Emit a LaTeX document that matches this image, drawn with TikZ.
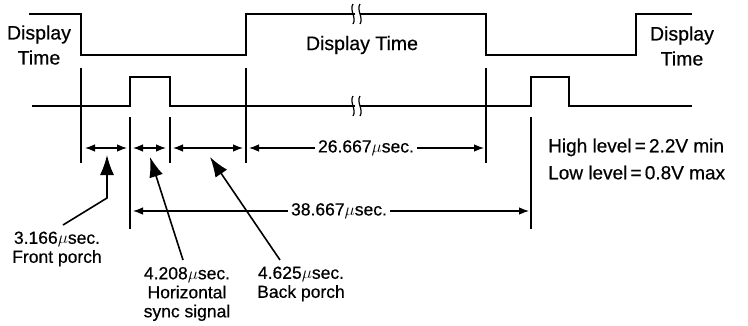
\documentclass[tikz,border=0pt]{standalone}
\usepackage{fontspec}
\setmainfont{Liberation Sans}[FakeBold=0.5]
\usetikzlibrary{arrows.meta}
\begin{document}
\begin{tikzpicture}[x=1pt,y=-1pt,
  wave/.style={line width=2.8pt,line join=miter},
  lowwave/.style={line width=2.4pt,line join=miter},
  guide/.style={line width=1.4pt},
  dim/.style={line width=1.1pt,{Latex[length=10pt,width=7.5pt]}-{Latex[length=10pt,width=7.5pt]}},
  pointer/.style={line width=1.6pt,-{Latex[length=20pt,width=14pt]}},
  big/.style={font=\fontsize{19.5}{25}\selectfont,align=center,inner sep=1pt},
  small/.style={font=\fontsize{17.5}{19}\selectfont,align=center,inner sep=1pt},
  brk/.style={line width=1.2pt}]
\useasboundingbox (0,0) rectangle (748,325);

% waveforms
\draw[wave] (29,14) -- (81,14) -- (81,55) -- (246,55) -- (246,14) -- (486,14) -- (486,55) -- (636,55) -- (636,14) -- (692,14);
\draw[lowwave] (32,106) -- (130,106) -- (130,77) -- (170,77) -- (170,106) -- (531,106) -- (531,77) -- (569,77) -- (569,106) -- (692,106);

% break marks
\foreach \yy in {14,106}{
  \fill[white] (354.5,\yy-3) rectangle (359.5,\yy+3);
  \draw[brk] (353,\yy-10) .. controls (349,\yy-4) and (357,\yy+4) .. (353,\yy+10);
  \draw[brk] (360,\yy-10) .. controls (356,\yy-4) and (364,\yy+4) .. (360,\yy+10);
}

% guide lines
\coordinate (g1t) at (81,68);  \coordinate (g1b) at (81,163);
\coordinate (g2t) at (130,117); \coordinate (g2b) at (130,229);
\coordinate (g3t) at (170,117); \coordinate (g3b) at (170,163);
\coordinate (g4t) at (246,68); \coordinate (g4b) at (246,163);
\coordinate (g5t) at (486,68); \coordinate (g5b) at (486,163);
\coordinate (g6t) at (531,117); \coordinate (g6b) at (531,229);
\foreach \g in {g1,g2,g3,g4,g5,g6}{\draw[guide] (\g t) -- (\g b);}

% dimension arrows
\coordinate (a1l) at (85,148); \coordinate (a1r) at (127,148);
\coordinate (a2l) at (133,148); \coordinate (a2r) at (166,148);
\coordinate (a3l) at (173,148); \coordinate (a3r) at (243,148);
\coordinate (a4l) at (249,148); \coordinate (a4r) at (484,148);
\coordinate (a5l) at (133,211); \coordinate (a5r) at (529,211);
\draw[dim] (a1l) -- (a1r);
\draw[dim] (a2l) -- (a2r);
\draw[dim] (a3l) -- (a3r);
\draw[dim] (a4l) -- (a4r);
\draw[dim] (a5l) -- (a5r);
\node[small,fill=white,inner xsep=3pt] (t26) at (366,148) {26.667$\mu$sec.};
\node[small,fill=white,inner xsep=3pt] (t38) at (339,211) {38.667$\mu$sec.};

% display time labels
\node[big] (dl) at (39,45) {Display\\Time};
\node[big] (dm) at (362,45) {Display Time};
\node[big] (dr) at (682,46) {Display\\Time};

% levels
\node[big,align=left,anchor=west,font=\fontsize{19}{27}\selectfont] (lev) at (547,159) {High level\,=\,2.2V min\\Low level\,=\,0.8V max};

% pointer labels
\node[small] (fp) at (57,249) {3.166$\mu$sec.\\Front porch};
\node[small] (hs) at (187,294) {4.208$\mu$sec.\\Horizontal\\sync signal};
\node[small] (bp) at (301,284) {4.625$\mu$sec.\\Back porch};

\coordinate (fpa) at (63,225); \coordinate (fpb) at (107,198); \coordinate (fpt) at (107,155);
\coordinate (hsa) at (183,260); \coordinate (hst) at (150,157);
\coordinate (bpa) at (280,260); \coordinate (bpt) at (210,157);
\draw[pointer] (fpa) -- (fpb) -- (fpt);
\draw[pointer] (hsa) -- (hst);
\draw[pointer] (bpa) -- (bpt);
\end{tikzpicture}
\end{document}
